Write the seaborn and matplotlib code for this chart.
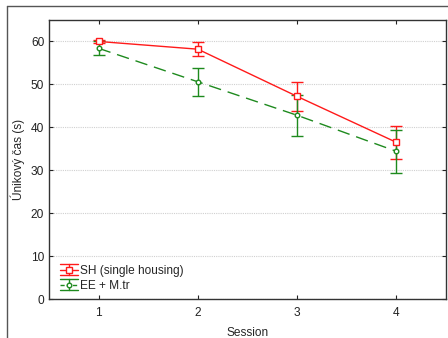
import pandas as pd
import matplotlib
matplotlib.use("Agg")
import matplotlib.pyplot as plt
from matplotlib.lines import Line2D
from matplotlib.legend_handler import HandlerBase
import seaborn as sns

sessions = [1, 2, 3, 4]
sh_mean = [60.0, 58.2, 47.2, 36.5]
sh_err = [0.3, 1.7, 3.3, 3.9]
ee_mean = [58.4, 50.6, 42.8, 34.4]
ee_err = [1.6, 3.3, 4.8, 5.0]
groups = ["SH (single housing)", "EE + M.tr"]
yticks = [0, 10, 20, 30, 40, 50, 60]

sns.set_style("white")
plt.rcParams["font.family"] = ["Liberation Sans", "DejaVu Sans"]

sh_df = pd.DataFrame({"Session": sessions, "time": sh_mean})
ee_df = pd.DataFrame({"Session": sessions, "time": ee_mean})

red = "#ff1a1a"
green = "#1e8a1e"
fs = 8.6

fig = plt.figure(figsize=(4.48, 3.38), dpi=100)
ax = fig.add_axes([49 / 448, 1 - 299 / 338, 397 / 448, 279 / 338])

sns.lineplot(data=sh_df, x="Session", y="time", color=red, marker="s",
             markersize=5, markerfacecolor="white", markeredgecolor=red,
             markeredgewidth=1.0, lw=1.0, ax=ax, zorder=3)
sns.lineplot(data=ee_df, x="Session", y="time", color=green, marker="o",
             markersize=3.3, markerfacecolor="white", markeredgecolor=green,
             markeredgewidth=1.0, lw=1.0, dashes=(9, 5), ax=ax, zorder=3)

ax.errorbar(sessions, sh_mean, yerr=sh_err, fmt="none", ecolor=red,
            elinewidth=1.0, capsize=4.5, capthick=1.0, zorder=2)
ax.errorbar(sessions, ee_mean, yerr=ee_err, fmt="none", ecolor=green,
            elinewidth=1.0, capsize=4.5, capthick=1.0, zorder=2)

ax.set_xlim(0.5, 4.5)
ax.set_ylim(0, 65)
ax.set_xticks(sessions)
ax.set_yticks(yticks)
ax.yaxis.grid(True, color="#d0d0d0", linestyle=(0, (1, 1)), linewidth=0.8)
ax.set_axisbelow(True)
ax.tick_params(direction="in", length=3, width=0.8, labelsize=fs,
               top=True, right=True, bottom=True, left=True,
               colors="#222222")
ax.tick_params(axis="x", pad=5.5)
ax.tick_params(axis="y", pad=3.5)
for sp in ax.spines.values():
    sp.set_visible(True)
    sp.set_color("#333333")
    sp.set_linewidth(1.0)

ax.set_xlabel("Session", fontsize=fs, labelpad=6)
ax.set_ylabel("Únikový čas (s)", fontsize=fs, labelpad=4)


class CapKey:
    """Legend key description: colour, marker and dash pattern of a series."""
    def __init__(self, color, marker, ms, dashes):
        self.color, self.marker, self.ms, self.dashes = color, marker, ms, dashes


class HandlerCapKey(HandlerBase):
    """Draws a key as a line with marker framed by wide error caps."""
    def create_artists(self, legend, orig, xd, yd, width, height, fontsize, trans):
        cy = height / 2 - yd
        x0, x1 = -xd, -xd + width
        half = 4.0
        arts = []
        for yy in (cy - half, cy + half):
            arts.append(Line2D([x0, x1], [yy, yy], color=orig.color, lw=1.0,
                               transform=trans))
        arts.append(Line2D([(x0 + x1) / 2] * 2, [cy - half, cy + half],
                           color=orig.color, lw=1.0, transform=trans))
        mid = Line2D([x0, x1], [cy, cy], color=orig.color, lw=1.0,
                     transform=trans)
        if orig.dashes:
            mid.set_dashes(orig.dashes)
        arts.append(mid)
        arts.append(Line2D([(x0 + x1) / 2], [cy], color=orig.color, lw=0,
                           marker=orig.marker, markersize=orig.ms,
                           markerfacecolor="white", markeredgewidth=1.0,
                           transform=trans))
        return arts


keys = [CapKey(red, "s", 5, None), CapKey(green, "o", 3.3, (3, 1.5))]
ax.legend(keys, groups, handler_map={CapKey: HandlerCapKey()},
          loc="lower left", bbox_to_anchor=(11 / 397, 7 / 279),
          borderpad=0, borderaxespad=0,
          frameon=False, fontsize=fs, handlelength=1.5, handletextpad=0.2,
          labelspacing=0.25)

# outer frame around the plot area
fig.add_artist(Line2D([6.5 / 448, 6.5 / 448], [0, 1 - 6 / 338], color="#555555", lw=1.0))
fig.add_artist(Line2D([6.5 / 448, 1], [1 - 6 / 338, 1 - 6 / 338], color="#555555", lw=1.0))

fig.savefig("out.png", dpi=100)
